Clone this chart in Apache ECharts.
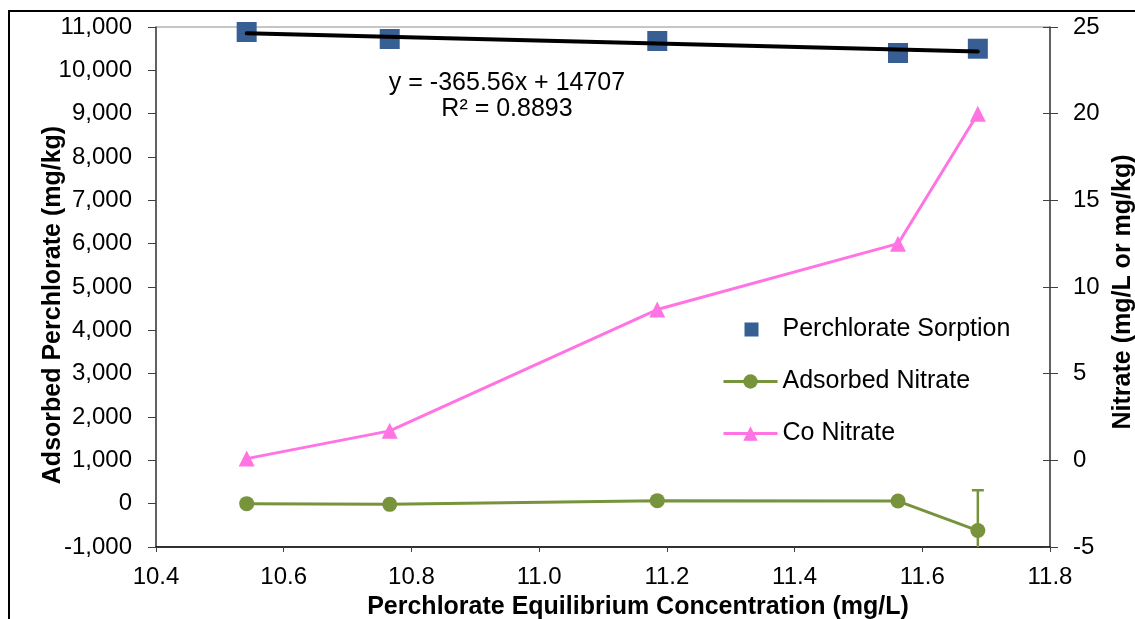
<!DOCTYPE html>
<html>
<head>
<meta charset="utf-8">
<script src="https://cdn.jsdelivr.net/npm/echarts@6/dist/echarts.min.js"></script>
<style>
  html, body { margin: 0; padding: 0; background: #fff; }
  #chart { width: 1135px; height: 619px; }
</style>
</head>
<body>
<div id="chart"></div>
<script>
// perchlorate equilibrium concentration (mg/L)
const xConc = [10.542, 10.766, 11.185, 11.562, 11.687]
// adsorbed perchlorate (mg/kg), left axis
const perchlorateSorption = [10885, 10723, 10677, 10400, 10499]
// adsorbed nitrate, left axis, with error on the last point
const adsorbedNitrate = [0, -16, 70, 60, -620]
const adsorbedNitrateErr = [0, 0, 0, 0, 930]
// Co nitrate (mg/L), right axis
const coNitrate = [0.1, 1.7, 8.7, 12.5, 20.0]
// linear trendline shown on the chart
const trendSlope = -365.56
const trendIntercept = 14707
const equationLines = ['y = -365.56x + 14707', 'R² = 0.8893']

const FONT = '"Liberation Sans", Arial, sans-serif'
const AXIS_COLOR = '#404040'
const GREEN = '#77933c'
const PINK = '#ff73e3'

const zip = (xs, ys) => xs.map((x, i) => [x, ys[i]])
const xMin = Math.min(...xConc)
const xMax = Math.max(...xConc)
const trendData = [xMin, xMax].map(x => [x, trendSlope * x + trendIntercept])
const errData = xConc
  .map((x, i) => [x, adsorbedNitrate[i] - adsorbedNitrateErr[i], adsorbedNitrate[i] + adsorbedNitrateErr[i]])
  .filter((d, i) => adsorbedNitrateErr[i] > 0)

const chart = echarts.init(document.getElementById('chart'), null, { renderer: 'canvas' })

const option = {
  backgroundColor: '#fff',
  animation: false,
  textStyle: { fontFamily: FONT },
  grid: {
    left: 156, right: 85, top: 27, bottom: 72,
    show: true, borderColor: '#8c8c8c', borderWidth: 1,
  },
  legend: {
    orient: 'vertical',
    left: 722, top: 317,
    padding: 0,
    itemWidth: 54, itemHeight: 18, itemGap: 27,
    textStyle: { color: '#000', fontSize: 25, fontFamily: FONT },
    data: [
      // square icon kept inside a 54x18 box so it is not stretched
      { name: 'Perchlorate Sorption', icon: 'path://M0,9L0.01,9M21,2L35,2L35,16L21,16ZM53.99,9L54,9' },
      { name: 'Adsorbed Nitrate', lineStyle: { width: 3 } },
      { name: 'Co Nitrate', lineStyle: { width: 3 } },
    ],
  },
  xAxis: {
    type: 'value',
    min: 10.4, max: 11.8, interval: 0.2,
    axisLine: { show: true, onZero: false, lineStyle: { color: '#000', width: 1.5 } },
    axisTick: { show: true, inside: false, length: 5, lineStyle: { color: AXIS_COLOR } },
    axisLabel: { color: '#000', fontSize: 24, margin: 18, formatter: v => v.toFixed(1) },
    splitLine: { show: false },
  },
  yAxis: [
    {
      type: 'value',
      position: 'left',
      min: -1000, max: 11000, interval: 1000,
      axisLine: { show: true, onZero: false, lineStyle: { color: AXIS_COLOR, width: 1.5 } },
      axisTick: { show: true, inside: false, length: 8, lineStyle: { color: AXIS_COLOR } },
      axisLabel: { color: '#000', fontSize: 24, margin: 24, formatter: v => v.toLocaleString('en-US') },
      splitLine: { show: false },
    },
    {
      type: 'value',
      position: 'right',
      min: -5, max: 25, interval: 5,
      axisLine: { show: true, onZero: false, lineStyle: { color: AXIS_COLOR, width: 1.5 } },
      axisTick: { show: true, inside: false, length: 8, lineStyle: { color: AXIS_COLOR } },
      axisLabel: { color: '#000', fontSize: 24, margin: 23, align: 'left' },
      splitLine: { show: false },
    },
    {
      // inner half of the crossing ticks on the right axis
      type: 'value',
      position: 'right',
      min: -5, max: 25, interval: 5,
      axisLine: { show: false, onZero: false },
      axisTick: { show: true, inside: true, length: 7, lineStyle: { color: AXIS_COLOR } },
      axisLabel: { show: false },
      splitLine: { show: false },
    },
  ],
  graphic: [
    {
      type: 'rect', silent: true, z: 100,
      shape: { x: 9, y: 11, width: 1300, height: 800 },
      style: { fill: 'none', stroke: '#000', lineWidth: 2 },
    },
    {
      type: 'text', x: 507, y: 83,
      style: { text: equationLines[0], font: `25px ${FONT}`, fill: '#000', align: 'center', verticalAlign: 'middle' },
    },
    {
      type: 'text', x: 507, y: 109,
      style: { text: equationLines[1], font: `25px ${FONT}`, fill: '#000', align: 'center', verticalAlign: 'middle' },
    },
    {
      type: 'text', x: 638, y: 607,
      style: { text: 'Perchlorate Equilibrium Concentration (mg/L)', font: `bold 25px ${FONT}`, fill: '#000', align: 'center', verticalAlign: 'middle' },
    },
    {
      type: 'text', x: 53, y: 305, rotation: Math.PI / 2,
      style: { text: 'Adsorbed Perchlorate (mg/kg)', font: `bold 25px ${FONT}`, fill: '#000', align: 'center', verticalAlign: 'middle' },
    },
    {
      type: 'text', x: 1123, y: 292, rotation: Math.PI / 2,
      style: { text: 'Nitrate (mg/L or mg/kg)', font: `bold 25px ${FONT}`, fill: '#000', align: 'center', verticalAlign: 'middle' },
    },
  ],
  series: [
    {
      name: 'Perchlorate Sorption',
      type: 'scatter',
      yAxisIndex: 0,
      symbol: 'rect',
      symbolSize: 20,
      itemStyle: { color: '#385f94', opacity: 1 },
      data: zip(xConc, perchlorateSorption),
      z: 2,
    },
    {
      name: 'trend',
      type: 'line',
      yAxisIndex: 0,
      showSymbol: false,
      symbol: 'none',
      lineStyle: { color: '#000', width: 4, cap: 'round' },
      data: trendData,
      z: 3,
    },
    {
      name: 'Adsorbed Nitrate',
      type: 'line',
      yAxisIndex: 0,
      symbol: 'circle',
      symbolSize: 15,
      lineStyle: { color: GREEN, width: 3 },
      itemStyle: { color: GREEN },
      data: zip(xConc, adsorbedNitrate),
      z: 4,
    },
    {
      name: 'nitrate error',
      type: 'custom',
      yAxisIndex: 0,
      clip: true,
      encode: { x: 0, y: [1, 2] },
      data: errData,
      renderItem(params, api) {
        const x = api.value(0)
        const lo = api.coord([x, api.value(1)])
        const hi = api.coord([x, api.value(2)])
        const cap = 6
        const style = { stroke: GREEN, lineWidth: 2.5 }
        return {
          type: 'group',
          children: [
            { type: 'line', shape: { x1: hi[0], y1: hi[1], x2: lo[0], y2: lo[1] }, style },
            { type: 'line', shape: { x1: hi[0] - cap, y1: hi[1], x2: hi[0] + cap, y2: hi[1] }, style },
            { type: 'line', shape: { x1: lo[0] - cap, y1: lo[1], x2: lo[0] + cap, y2: lo[1] }, style },
          ],
        }
      },
      z: 3,
    },
    {
      name: 'Co Nitrate',
      type: 'line',
      yAxisIndex: 1,
      symbol: 'triangle',
      symbolSize: 16,
      lineStyle: { color: PINK, width: 3 },
      itemStyle: { color: PINK },
      data: zip(xConc, coNitrate),
      z: 4,
    },
  ],
}

chart.setOption(option)
</script>
</body>
</html>
